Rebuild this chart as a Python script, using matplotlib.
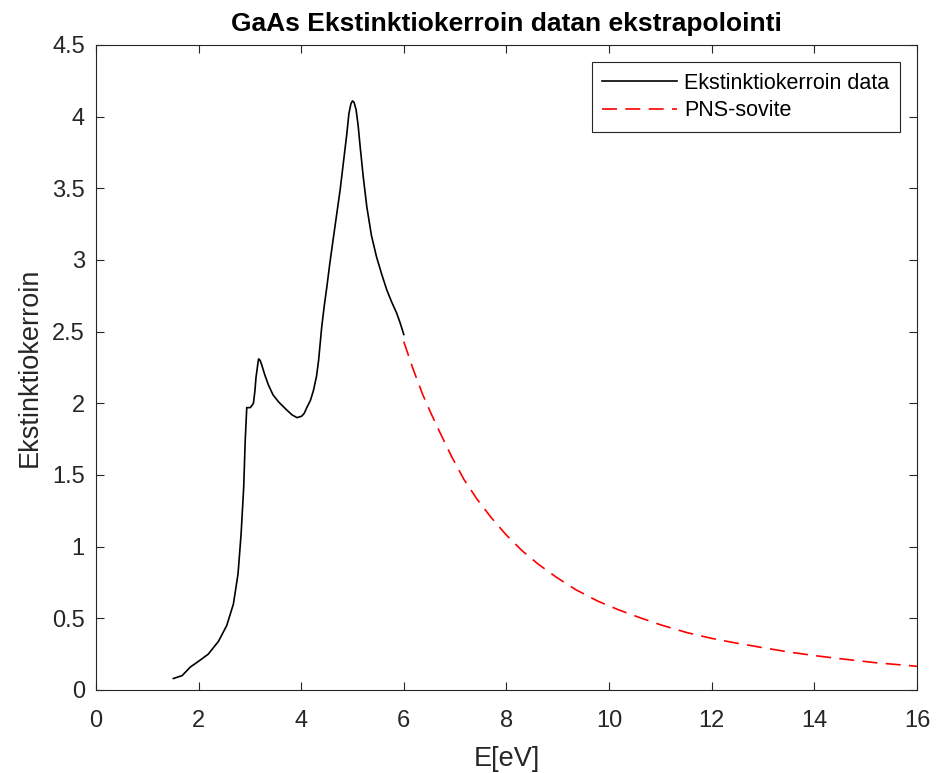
import matplotlib
matplotlib.use("Agg")
import matplotlib.pyplot as plt

E_data = [1.51, 1.68, 1.84, 2.00, 2.19, 2.39, 2.55, 2.68, 2.77, 2.83, 2.88, 2.91,
          2.94, 3.01, 3.07, 3.10, 3.12, 3.15, 3.17, 3.20, 3.23, 3.29, 3.36, 3.45,
          3.56, 3.70, 3.82, 3.92, 4.01, 4.06, 4.11, 4.18, 4.24, 4.30, 4.34, 4.40,
          4.45, 4.50, 4.56, 4.63, 4.76, 4.89, 4.93, 4.97, 5.00, 5.03, 5.07, 5.11,
          5.15, 5.21, 5.28, 5.37, 5.47, 5.57, 5.67, 5.76, 5.86, 5.93, 6.00]
k_data = [0.08, 0.10, 0.16, 0.20, 0.25, 0.34, 0.45, 0.60, 0.81, 1.09, 1.41, 1.74,
          1.97, 1.97, 2.00, 2.09, 2.18, 2.26, 2.31, 2.30, 2.27, 2.20, 2.13, 2.06,
          2.01, 1.96, 1.92, 1.90, 1.91, 1.93, 1.97, 2.02, 2.09, 2.19, 2.30, 2.53,
          2.68, 2.81, 2.98, 3.16, 3.49, 3.88, 4.02, 4.09, 4.11, 4.10, 4.05, 3.94,
          3.79, 3.58, 3.37, 3.17, 3.02, 2.90, 2.79, 2.71, 2.63, 2.56, 2.48]

# least squares fit extrapolation
E_fit = [6.0, 6.18, 6.37, 6.53, 6.70, 6.93, 7.17, 7.43, 7.71, 8.00, 8.31, 8.63,
         8.98, 9.35, 9.78, 10.18, 10.58, 11.0, 11.52, 12.0, 12.39, 13.0, 13.52,
         14.0, 14.53, 15.2, 15.85, 16.0]
k_fit = [2.43, 2.24, 2.06, 1.93, 1.80, 1.63, 1.47, 1.33, 1.20, 1.08, 0.97, 0.875,
         0.785, 0.70, 0.62, 0.56, 0.507, 0.455, 0.40, 0.36, 0.333, 0.295, 0.264,
         0.24, 0.217, 0.19, 0.170, 0.165]

plt.rcParams['font.family'] = ['Liberation Sans', 'DejaVu Sans']

fig = plt.figure(figsize=(9.4, 7.73), dpi=100)
ax = fig.add_axes([0.102, 0.1074, 0.8735, 0.8344])

ax.plot(E_data, k_data, "-", color="black", lw=1.2, label="Ekstinktiokerroin data")
ax.plot(E_fit, k_fit, "--", color="red", lw=1.2, dashes=(9, 5), label="PNS-sovite")

ax.set_xlim(0, 16)
ax.set_ylim(0, 4.5)
ax.set_xticks(range(0, 17, 2))
ax.set_yticks([0, 0.5, 1, 1.5, 2, 2.5, 3, 3.5, 4, 4.5])
ax.set_yticklabels(["0", "0.5", "1", "1.5", "2", "2.5", "3", "3.5", "4", "4.5"])
ax.tick_params(direction="in", top=True, right=True, length=6, width=0.8,
               labelsize=17, colors="#262626")
ax.tick_params(axis="x", pad=14.5)
ax.tick_params(axis="y", pad=8)
for s in ax.spines.values():
    s.set_color("#262626")
    s.set_linewidth(0.8)

ax.set_xlabel("E[eV]", fontsize=19.5, color="#262626", labelpad=10)
ax.set_ylabel("Ekstinktiokerroin", fontsize=19.5, color="#262626", labelpad=7)
ax.set_title("GaAs Ekstinktiokerroin datan ekstrapolointi", fontsize=19,
             fontweight="bold", pad=10)

leg = ax.legend(loc="upper right", fontsize=15.5, fancybox=False, framealpha=1,
                edgecolor="#262626", handlelength=3.45, borderaxespad=0.8,
                borderpad=0.5, labelspacing=0.3, handletextpad=0.33)
leg.get_frame().set_linewidth(0.8)

plt.savefig("out.png", dpi=100)
